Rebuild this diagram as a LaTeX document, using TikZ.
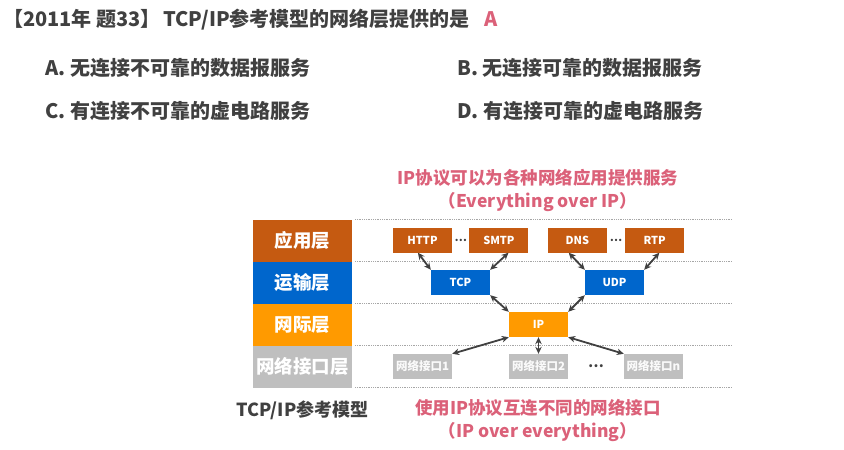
\documentclass[tikz,border=0pt]{standalone}
\usepackage{fontspec}
\setmainfont{Noto Sans CJK SC}
\usetikzlibrary{arrows.meta,positioning,calc}
\definecolor{appbrown}{HTML}{C55A11}
\definecolor{transblue}{HTML}{0066CC}
\definecolor{netorange}{HTML}{FF9A00}
\definecolor{linkgray}{HTML}{BFBFBF}
\definecolor{textgray}{HTML}{404040}
\definecolor{rose}{HTML}{DB6179}
\definecolor{arrowgray}{HTML}{404040}
\definecolor{rulegray}{HTML}{A6A6A6}

\begin{document}
\begin{tikzpicture}[x=1pt, y=1pt,
			layer/.style={rectangle, minimum width=99pt, minimum height=42pt, inner sep=0pt, outer sep=0pt, text=white, font=\fontsize{18.5}{20}\selectfont\bfseries},
			proto/.style={rectangle, minimum width=59pt, minimum height=25pt, inner sep=0pt, text=white, font=\fontsize{11}{12}\selectfont\bfseries},
			app/.style={proto, fill=appbrown},
			trans/.style={proto, fill=transblue},
			inet/.style={proto, fill=netorange},
			iface/.style={proto, fill=linkgray, text=white!92!linkgray, font=\fontsize{11.5}{12}\selectfont\bfseries},
			question/.style={inner sep=0pt, anchor=west, text=textgray, font=\fontsize{20}{24}\selectfont\bfseries},
			note/.style={inner sep=0pt, text=rose, font=\fontsize{17.5}{20}\selectfont\bfseries},
			gap/.style={inner sep=0pt, text=textgray, font=\fontsize{11}{12}\selectfont\bfseries},
			rule/.style={densely dotted, draw=rulegray, line width=0.8pt},
			arrow/.style={{Stealth[length=7pt,width=6.5pt]}-{Stealth[length=7pt,width=6.5pt]}, line width=1.8pt, draw=arrowgray},
			]
			\useasboundingbox (0,0) rectangle (844,-450);
			
			% question
			\draw node[question] (title) at (3,-20) {【2011年 题33】\hspace{0.12em}TCP/IP参考模型的网络层提供的是\hspace{0.75em}\textcolor{rose}{A}};
			\draw node[question] (optA) at (45,-68) {A. 无连接不可靠的数据报服务};
			\draw node[question] (optB) at (457,-68) {B. 无连接可靠的数据报服务};
			\draw node[question] (optC) at (45,-111) {C. 有连接不可靠的虚电路服务};
			\draw node[question] (optD) at (457,-111) {D. 有连接可靠的虚电路服务};
			
			% layers
			\draw node[layer, fill=appbrown] (appLayer) at (302.5,-240.5) {应用层};
			\draw node[layer, fill=transblue, below=0pt of appLayer] (transLayer) {运输层};
			\draw node[layer, fill=netorange, below=0pt of transLayer] (netLayer) {网际层};
			\draw node[layer, fill=linkgray, below=0pt of netLayer] (linkLayer) {网络接口层};
			\draw node[text=textgray, font=\fontsize{18}{20}\selectfont\bfseries, below=10pt of linkLayer] (modelText) {TCP/IP参考模型};
			
			\draw [rule] ([xshift=3pt]appLayer.north east) -- ++(377pt,0);
			\foreach \x in {appLayer,transLayer,netLayer,linkLayer}
			\draw [rule] ([xshift=3pt]\x.south east) -- ++(377pt,0);
			
			% protocols
			\draw node[app] (http) at (422.5,-240) {HTTP};
			\draw node[app, right=17pt of http] (smtp) {SMTP};
			\draw node[app, right=19pt of smtp] (dns) {DNS};
			\draw node[app, right=18pt of dns] (rtp) {RTP};
			\draw node[gap] (dotsA) at ($(http.east)!0.5!(smtp.west)$) {…};
			\draw node[gap] (dotsB) at ($(dns.east)!0.5!(rtp.west)$) {…};
			
			\draw node[trans] (tcp) at (460.5,-282.5) {TCP};
			\draw node[trans] (udp) at (614.5,-282.5) {UDP};
			\draw node[inet] (ip) at (538.5,-324.5) {IP};
			
			\draw node[iface] (if1) at (422.5,-366.5) {网络接口1};
			\draw node[iface] (if2) at (538.5,-366.5) {网络接口2};
			\draw node[iface] (ifn) at (653.5,-366.5) {网络接口n};
			\draw node[gap, font=\fontsize{14}{14}\selectfont\bfseries] (dotsC) at ($(if2.east)!0.5!(ifn.west)$) {…};
			
			% notes
			\draw node[note] (topNote) at (538,-178) {IP协议可以为各种网络应用提供服务};
			\draw node[note, below=5pt of topNote] (topNoteEn) {（Everything over IP）};
			\draw node[note] (lowNote) at (538,-408) {使用IP协议互连不同的网络接口};
			\draw node[note, below=5pt of lowNote] (lowNoteEn) {（IP over everything）};
			
			% Arrow
			\draw [arrow] (http.250) -- (tcp.north west);
			\draw [arrow] (smtp.-53) -- (tcp.north east);
			\draw [arrow] (dns.236) -- (udp.north west);
			\draw [arrow] (rtp.290) -- (udp.north east);
			\draw [arrow] (tcp.south east) -- (ip.north west);
			\draw [arrow] (udp.south west) -- (ip.north east);
			\draw [arrow] (ip.south west) -- (if1.north east);
			\draw [arrow] (ip.south) -- (if2.north);
			\draw [arrow] (ip.south east) -- (ifn.north west);
			
		\end{tikzpicture}
\end{document}
